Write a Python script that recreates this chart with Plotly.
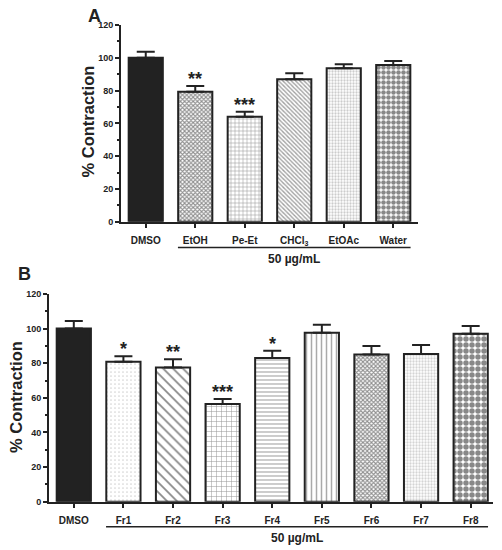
import plotly.graph_objects as go

# ---- Data ----
cats_a = ["DMSO", "EtOH", "Pe-Et", "CHCl<sub>3</sub>", "EtOAc", "Water"]
mean_a = [100, 79.3, 64.0, 86.9, 93.6, 95.6]
sem_a = [3.7, 3.5, 3.1, 3.6, 2.4, 2.4]
stars_a = ["", "**", "***", "", "", ""]

cats_b = ["DMSO", "Fr1", "Fr2", "Fr3", "Fr4", "Fr5", "Fr6", "Fr7", "Fr8"]
mean_b = [100, 80.9, 77.6, 56.4, 83.0, 97.6, 85.1, 85.3, 97.0]
sem_b = [4.4, 3.1, 4.7, 2.9, 4.2, 4.7, 4.8, 5.2, 4.5]
stars_b = ["", "*", "**", "***", "*", "", "", "", ""]

y_ticks = [0, 20, 40, 60, 80, 100, 120]
conc_label = "50 µg/mL"

# ---- Geometry (page has an 8px body margin) ----
OFF = 8
W, H = 494, 542


def px(xs):
    return (xs - OFF) / W


def py(ys):
    return 1 - (ys - OFF) / H


# ---- Styles ----
FONT = "Liberation Sans, Arial, sans-serif"
DARK = "#222222"

# (shape, fgcolor, size, solidity) per bar
pat_a = [
    None,
    ("x", "#222222", 3, 0.6),
    ("+", "#333333", 4, 0.25),
    ("\\", "#444444", 3, 0.45),
    (".", "#999999", 3, 0.45),
    (".", "#111111", 5, 0.65),
]
pat_b = [
    None,
    (".", "#aaaaaa", 4, 0.15),
    ("\\", "#111111", 7, 0.25),
    ("+", "#333333", 5, 0.2),
    ("-", "#555555", 4, 0.3),
    ("|", "#555555", 5, 0.3),
    ("x", "#222222", 3, 0.6),
    (".", "#aaaaaa", 3, 0.45),
    (".", "#111111", 6, 0.65),
]

fig = go.Figure()


def add_bars(means, sems, pats, xa, ya):
    for i, (m, s, p) in enumerate(zip(means, sems, pats)):
        if p is None:
            marker = dict(color=DARK, line=dict(color=DARK, width=2))
        else:
            marker = dict(color="white", line=dict(color=DARK, width=2),
                          pattern=dict(shape=p[0], fgcolor=p[1], size=p[2], solidity=p[3]))
        fig.add_trace(go.Bar(
            x=[i], y=[m], width=0.69, marker=marker,
            error_y=dict(type="data", array=[s], arrayminus=[0], symmetric=False,
                         color=DARK, thickness=2, width=9),
            xaxis=xa, yaxis=ya, showlegend=False,
        ))


add_bars(mean_a, sem_a, pat_a, "x", "y")
add_bars(mean_b, sem_b, pat_b, "x2", "y2")

tickfont = dict(family=FONT, size=10, color=DARK, weight="bold")
yfont = dict(family=FONT, size=9, color=DARK, weight="bold")

xcommon = dict(showline=True, linecolor=DARK, linewidth=2, ticks="outside", ticklen=4,
               tickwidth=2, tickcolor=DARK, tickfont=tickfont, showgrid=False, zeroline=False,
               automargin=False, fixedrange=True, ticklabelstandoff=4)
ycommon = dict(showline=True, linecolor=DARK, linewidth=2, ticks="outside", ticklen=4,
               tickwidth=2, tickcolor=DARK, tickfont=yfont, showgrid=False, zeroline=False,
               automargin=False, range=[0, 120], tickvals=y_ticks,
               minor=dict(dtick=10, ticks="outside", ticklen=2, tickwidth=1.5, tickcolor=DARK, showgrid=False))

fig.update_layout(
    width=W, height=H,
    margin=dict(l=0, r=0, t=0, b=0),
    paper_bgcolor="white", plot_bgcolor="white",
    barmode="overlay",
    xaxis=dict(domain=[px(121), px(418)], anchor="y", range=[-0.5, 5.5],
               tickvals=list(range(len(cats_a))), ticktext=cats_a, **xcommon),
    yaxis=dict(domain=[py(221.7), py(25)], anchor="x", **ycommon),
    xaxis2=dict(domain=[px(49), px(493)], anchor="y2", range=[-0.5, 8.45],
                tickvals=list(range(len(cats_b))), ticktext=cats_b, **xcommon),
    yaxis2=dict(domain=[py(501.7), py(294)], anchor="x2", **ycommon),
)

ann = []
star_font = dict(family=FONT, size=18, color=DARK, weight="bold")
for i, s in enumerate(stars_a):
    if s:
        ann.append(dict(x=i, y=mean_a[i] + sem_a[i], xref="x", yref="y", text=s, yshift=-5,
                        showarrow=False, yanchor="bottom", font=star_font))
for i, s in enumerate(stars_b):
    if s:
        ann.append(dict(x=i, y=mean_b[i] + sem_b[i], xref="x2", yref="y2", text=s, yshift=-5,
                        showarrow=False, yanchor="bottom", font=star_font))

title_font = dict(family=FONT, size=16.5, color=DARK, weight="bold")
ann.append(dict(x=px(87.5), y=py(122), xref="paper", yref="paper", text="% Contraction",
                textangle=-90, showarrow=False, xanchor="center", yanchor="middle", font=title_font))
ann.append(dict(x=px(16), y=py(397), xref="paper", yref="paper", text="% Contraction",
                textangle=-90, showarrow=False, xanchor="center", yanchor="middle", font=title_font))

letter_font = dict(family=FONT, size=18, color=DARK, weight="bold")
ann.append(dict(x=px(94), y=py(16), xref="paper", yref="paper", text="A",
                showarrow=False, xanchor="center", yanchor="middle", font=letter_font))
ann.append(dict(x=px(24), y=py(274), xref="paper", yref="paper", text="B",
                showarrow=False, xanchor="center", yanchor="middle", font=letter_font))

conc_font = dict(family=FONT, size=12, color=DARK, weight="bold")
ann.append(dict(x=3, y=py(259), xref="x", yref="paper", text=conc_label,
                showarrow=False, xanchor="center", yanchor="middle", font=conc_font))
ann.append(dict(x=4.5, y=py(538), xref="x2", yref="paper", text=conc_label,
                showarrow=False, xanchor="center", yanchor="middle", font=conc_font))

fig.update_layout(annotations=ann)

shapes = [
    dict(type="line", xref="x", yref="paper", x0=1 - 0.35, x1=len(cats_a) - 1 + 0.35,
         y0=py(247.6), y1=py(247.6), line=dict(color=DARK, width=1.5)),
    dict(type="line", xref="x2", yref="paper", x0=1 - 0.35, x1=len(cats_b) - 1 + 0.35,
         y0=py(526.7), y1=py(526.7), line=dict(color=DARK, width=1.5)),
]
fig.update_layout(shapes=shapes)

fig.write_html("out.html")
